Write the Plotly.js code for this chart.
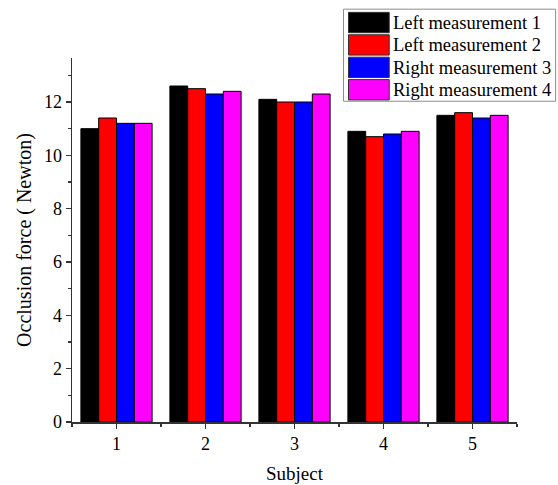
<!DOCTYPE html>
<html>
<head>
<meta charset="utf-8">
<script src="https://cdn.plot.ly/plotly-3.0.1.min.js"></script>
<style>html,body{margin:0;padding:0;background:#fff;}#chart{width:558px;height:485px;}</style>
</head>
<body>
<div id="chart"></div>
<script>
const subjects = [1, 2, 3, 4, 5];
const seriesNames = ["Left measurement 1", "Left measurement 2", "Right measurement 3", "Right measurement 4"];
const left1 = [11.0, 12.6, 12.1, 10.9, 11.5];
const left2 = [11.4, 12.5, 12.0, 10.7, 11.6];
const right3 = [11.2, 12.3, 12.0, 10.8, 11.4];
const right4 = [11.2, 12.4, 12.3, 10.9, 11.5];
const colors = ["#000000", "#ff0000", "#0000ff", "#ff00ff"];
const allSeries = [left1, left2, right3, right4];

const FONT = "Liberation Serif, Times New Roman, serif";

const traces = allSeries.map((vals, i) => ({
  type: "bar",
  x: subjects,
  y: vals,
  name: seriesNames[i],
  marker: {color: colors[i], line: {color: "#000", width: 1}},
  showlegend: false
}));

// custom legend with large swatches
const shapes = [];
const annotations = [];
const W = 558, H = 485, L = 71.5, R = 40.7, T = 58.3, B = 63;
const pw = W - L - R, ph = H - T - B;
function px2x(px) { return (px - L) / pw; }
function py2y(py) { return 1 - (py - T) / ph; }
shapes.push({type: "rect", xref: "paper", yref: "paper",
  x0: px2x(343.5), x1: px2x(556), y0: py2y(9.5), y1: py2y(101.5),
  line: {color: "#8c8c8c", width: 1}, fillcolor: "#fff", layer: "above"});
seriesNames.forEach((nm, i) => {
  const top = 12.7 + i * 22.4, bot = top + 20.3;
  shapes.push({type: "rect", xref: "paper", yref: "paper",
    x0: px2x(348.5), x1: px2x(389.3), y0: py2y(top), y1: py2y(bot),
    fillcolor: colors[i], line: {color: "#333", width: 1}, layer: "above"});
  annotations.push({xref: "paper", yref: "paper", x: px2x(391.5), y: py2y((top + bot) / 2 + 0.5),
    xanchor: "left", yanchor: "middle", text: nm, showarrow: false,
    font: {family: FONT, size: 18.5, color: "#000"}});
});

const layout = {
  width: W, height: H,
  margin: {l: L, r: R, t: T, b: B, pad: 0},
  paper_bgcolor: "#fff", plot_bgcolor: "#fff",
  barmode: "group", bargap: 0.2, bargroupgap: 0,
  font: {family: FONT, size: 18, color: "#000"},
  showlegend: false,
  xaxis: {
    range: [0.5, 5.5], tickmode: "linear", tick0: 1, dtick: 1,
    ticks: "outside", ticklen: 5, tickwidth: 1.2, tickcolor: "#333",
    minor: {dtick: 0.5, tick0: 0.5, ticks: "outside", ticklen: 3, tickwidth: 1.2, tickcolor: "#333"},
    showline: true, linecolor: "#333", linewidth: 1.5, showgrid: false, zeroline: false,
    tickfont: {family: FONT, size: 18},
    title: {text: "Subject", font: {family: FONT, size: 19}, standoff: 13}
  },
  yaxis: {
    range: [0, 13.65], tickmode: "linear", tick0: 0, dtick: 2,
    ticks: "outside", ticklen: 5, tickwidth: 1.2, tickcolor: "#333",
    minor: {dtick: 1, ticks: "outside", ticklen: 3, tickwidth: 1.2, tickcolor: "#333"},
    showline: true, linecolor: "#333", linewidth: 1.5, showgrid: false, zeroline: false,
    tickfont: {family: FONT, size: 18},
    title: {text: "Occlusion force ( Newton)", font: {family: FONT, size: 20}, standoff: 7}
  },
  shapes: shapes,
  annotations: annotations
};

Plotly.newPlot("chart", traces, layout, {displayModeBar: false, staticPlot: true});
</script>
</body>
</html>
